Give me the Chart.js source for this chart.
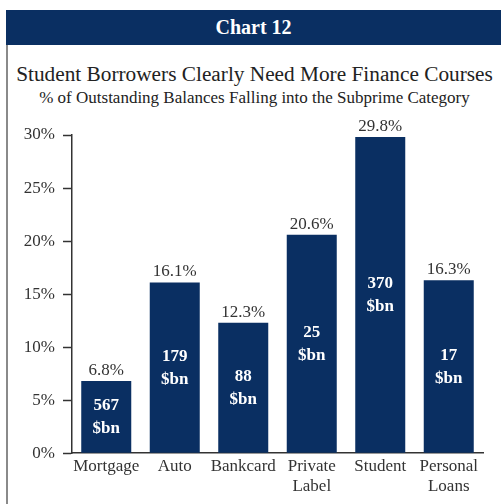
<!DOCTYPE html>
<html>
<head>
<meta charset="utf-8">
<script src="https://cdn.jsdelivr.net/npm/chart.js@4"></script>
<style>
  html, body { margin: 0; padding: 0; background: #fff; }
  body { width: 501px; height: 504px; position: relative; overflow: hidden; font-family: "Liberation Serif", serif; color: #222; }
  #header {
    position: absolute; left: 6px; top: 10px; width: 495px; height: 35px;
    background: #0a2f62; color: #fff; text-align: center;
    font-weight: bold; font-size: 20px; line-height: 35px;
  }
  #leftRule { position: absolute; left: 6px; top: 45px; width: 2px; height: 459px; background: #8a8a8a; }
  .ttl { position: absolute; left: 8px; width: 493px; text-align: center; white-space: nowrap; }
  #title { top: 60px; font-size: 21.3px; line-height: 28px; }
  #subtitle { top: 88px; font-size: 17px; line-height: 20px; }
  #wrap { position: absolute; left: 8px; top: 110px; width: 493px; height: 394px; }
</style>
</head>
<body>
<div id="header">Chart 12</div>
<div id="leftRule"></div>
<div id="title" class="ttl">Student Borrowers Clearly Need More Finance Courses</div>
<div id="subtitle" class="ttl">% of Outstanding Balances Falling into the Subprime Category</div>
<div id="wrap"><canvas id="chart"></canvas></div>
<script>
// Subprime share of outstanding balances, by loan type
const categories = [["Mortgage"], ["Auto"], ["Bankcard"], ["Private", "Label"], ["Student"], ["Personal", "Loans"]];
const subprimePct = [6.8, 16.1, 12.3, 20.6, 29.8, 16.3];
const balancesBn = [567, 179, 88, 25, 370, 17];
const yTicks = [0, 5, 10, 15, 20, 25, 30];

const NAVY = "#0a2f62";
const INK = "#333333";
const SERIF = "'Liberation Serif', 'Times New Roman', serif";

// draws the % above each bar and the $bn balance in the middle of it
const barLabels = {
  id: "barLabels",
  afterDatasetsDraw(chart) {
    const ctx = chart.ctx;
    const meta = chart.getDatasetMeta(0);
    ctx.save();
    ctx.textAlign = "center";
    meta.data.forEach((bar, i) => {
      ctx.fillStyle = INK;
      ctx.font = "17px " + SERIF;
      ctx.textBaseline = "bottom";
      ctx.fillText(subprimePct[i].toFixed(1) + "%", bar.x, bar.y - 2);

      const mid = (bar.y + bar.base) / 2;
      ctx.fillStyle = "#ffffff";
      ctx.font = "bold 17px " + SERIF;
      ctx.textBaseline = "middle";
      ctx.fillText(String(balancesBn[i]), bar.x, mid - 11);
      ctx.fillText("$bn", bar.x, mid + 12);
    });
    ctx.restore();
  }
};

new Chart(document.getElementById("chart"), {
  type: "bar",
  data: {
    labels: categories,
    datasets: [{
      data: subprimePct,
      backgroundColor: NAVY,
      barPercentage: 0.73,
      categoryPercentage: 1.0
    }]
  },
  options: {
    responsive: true,
    maintainAspectRatio: false,
    animation: false,
    layout: { padding: { left: 0, right: 18, top: 25, bottom: 4 } },
    plugins: {
      legend: { display: false },
      tooltip: { enabled: false }
    },
    scales: {
      x: {
        grid: { display: false, drawTicks: false },
        border: { color: INK, width: 1.5 },
        ticks: { color: INK, font: { family: SERIF, size: 17 }, padding: 3, maxRotation: 0, autoSkip: false }
      },
      y: {
        min: 0,
        max: 30,
        afterBuildTicks(scale) { scale.ticks = yTicks.map(v => ({ value: v })); },
        afterFit(scale) { scale.width = 64; },
        grid: { drawOnChartArea: false, tickLength: 9, color: INK, tickWidth: 1.5 },
        border: { color: INK, width: 1.5 },
        ticks: { color: INK, font: { family: SERIF, size: 17 }, padding: 8, callback: v => v + "%" }
      }
    }
  },
  plugins: [barLabels]
});
</script>
</body>
</html>
